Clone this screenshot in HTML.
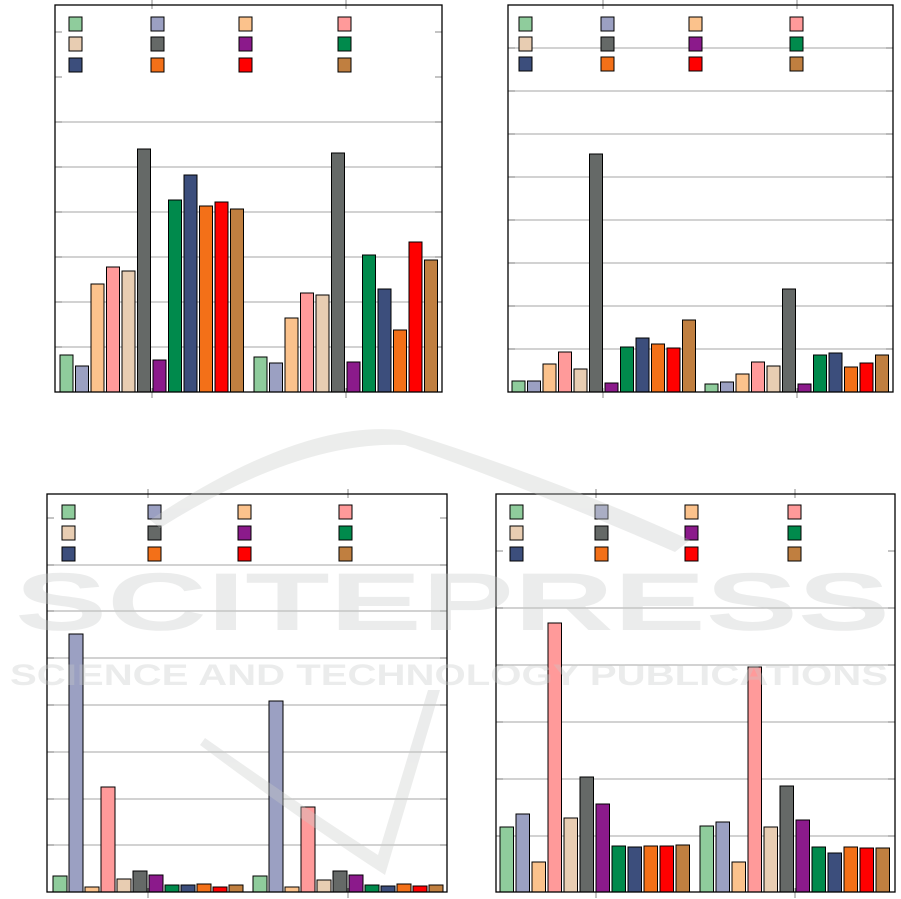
<!DOCTYPE html>
<html><head><meta charset="utf-8"><style>html,body{margin:0;padding:0;background:#fff}svg{display:block}</style></head>
<body>
<svg id="s" width="901" height="899" xmlns="http://www.w3.org/2000/svg"></svg>
<script>
const C=["#8fcc9c","#9ba0c2","#fbc28c","#ff9a9a","#e8cdb2","#656967","#8b1a8b","#008a4c","#3c4e7c","#f37018","#ff0000","#c07f40"];
const P=[
{x0:55,x1:442,y0:5,y1:392,grid:[347,302,257,212,167,122],ticks:[77,32],tx:[152,346],lx:[69,151,239,338],ly:[17,37,58],
 g:[[60,15.5,13],[254,15.5,13]],
 t:[[355,366,284,267,271,149,360,200,175,206,202,209],[357,363,318,293,295,153,362,255,289,330,242,260]]},
{x0:508,x1:893,y0:5,y1:392,grid:[349,306,263,220,177,134,91,48],ticks:[],tx:[603,797],lx:[519,601,689,790],ly:[17,37,57],
 g:[[512,15.5,13],[705,15.5,13]],
 t:[[381,381,364,352,369,154,383,347,338,344,348,320],[384,382,374,362,366,289,384,355,353,367,363,355]]},
{x0:47,x1:447,y0:494,y1:892,grid:[845,799,752,705,658,611,565],ticks:[518],tx:[148,348],lx:[62,148,238,339],ly:[505,526,547],
 g:[[53,16,14],[253,16,14]],
 t:[[876,634,887,787,879,871,875,885,885,884,887,885],[876,701,887,807,880,871,875,885,886,884,886,885]]},
{x0:496,x1:895,y0:494,y1:892,grid:[836,779,722,665,608],ticks:[551],tx:[596,795],lx:[510,595,685,788],ly:[505,526,547],
 g:[[500,16,13.5],[700,16,13.5]],
 t:[[827,814,862,623,818,777,804,846,847,846,846,845],[826,822,862,667,827,786,820,847,853,847,848,848]]}];
let h='';
for(const p of P){
 for(const y of p.grid) h+=`<line x1="${p.x0}" x2="${p.x1}" y1="${y}" y2="${y}" stroke="#b8b8b8" stroke-width="1.2"/>`;
 for(const y of p.grid.concat(p.ticks)){h+=`<line x1="${p.x0}" x2="${p.x0+7}" y1="${y}" y2="${y}" stroke="#888"/><line x1="${p.x1-7}" x2="${p.x1}" y1="${y}" y2="${y}" stroke="#888"/>`;}
 for(const x of p.tx){h+=`<line x1="${x}" x2="${x}" y1="${p.y0-5}" y2="${p.y0+4}" stroke="#888"/><line x1="${x}" x2="${x}" y1="${p.y1-4}" y2="${p.y1+6}" stroke="#888"/>`;}
 p.g.forEach((g,gi)=>{p.t[gi].forEach((t,i)=>{h+=`<rect x="${g[0]+i*g[1]}" y="${t}" width="${g[2]}" height="${p.y1-t}" fill="${C[i]}" stroke="#000" stroke-width="1"/>`;});});
 for(let r=0;r<3;r++)for(let c=0;c<4;c++) h+=`<rect x="${p.lx[c]}" y="${p.ly[r]}" width="13" height="14" fill="${C[r*4+c]}" stroke="#000" stroke-width="1"/>`;
 h+=`<rect x="${p.x0}" y="${p.y0}" width="${p.x1-p.x0}" height="${p.y1-p.y0}" fill="none" stroke="#000" stroke-width="1.3"/>`;
}
h+=`<g opacity="0.35" fill="#c8cac9" font-family="Liberation Sans, sans-serif" font-weight="bold">
<text x="15" y="630" font-size="82" textLength="875" lengthAdjust="spacingAndGlyphs">SCITEPRESS</text>
<text x="10" y="685" font-size="30" textLength="878" lengthAdjust="spacingAndGlyphs">SCIENCE AND TECHNOLOGY PUBLICATIONS</text>
<path d="M150 520 Q300 420 400 430 Q560 480 690 540 L675 552 Q520 485 405 445 Q300 440 160 528 Z"/>
<path d="M200 745 Q300 820 385 875 L440 690 L428 690 L378 855 Q300 805 205 738 Z"/></g>`;
document.getElementById('s').innerHTML=h;
</script>
</body></html>
